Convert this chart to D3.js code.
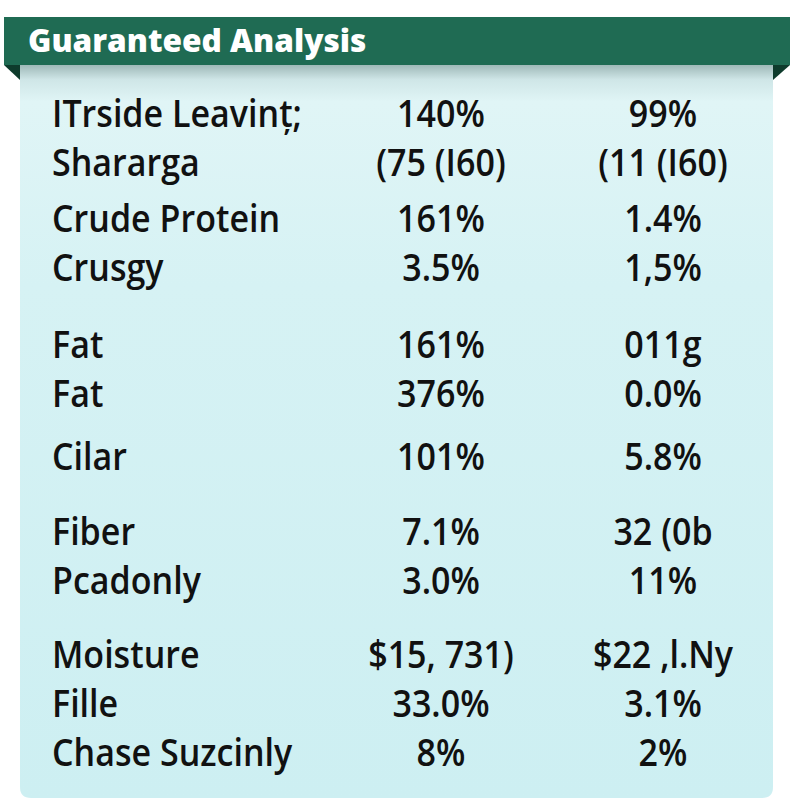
<!DOCTYPE html>
<html>
<head>
<meta charset="utf-8">
<script src="https://cdn.jsdelivr.net/npm/d3@7"></script>
<style>
  html, body { margin: 0; padding: 0; background: #fff; }
  svg { display: block; }
  text { font-family: "Open Sans", "Noto Sans", sans-serif; }
</style>
</head>
<body>
<svg id="chart" width="800" height="800"></svg>
<script>
/* ---------- data ---------- */
const title = "Guaranteed Analysis";
const labels = [
  "ITrside Leavint\u0326;", "Shararga", "Crude Protein", "Crusgy", "Fat", "Fat",
  "Cilar", "Fiber", "Pcadonly", "Moisture", "Fille", "Chase Suzcinly",
];
const firstValues = [
  "140%", "(75 (I60)", "161%", "3.5%", "161%", "376%",
  "101%", "7.1%", "3.0%", "$15, 731)", "33.0%", "8%",
];
const secondValues = [
  "99%", "(11 (I60)", "1.4%", "1,5%", "011g", "0.0%",
  "5.8%", "32 (0b", "11%", "$22 ,l.Ny", "3.1%", "2%",
];
// which block each row belongs to (blocks are split by extra space)
const rowGroup = [0, 0, 1, 1, 2, 2, 3, 4, 4, 5, 5, 5];

/* ---------- layout ---------- */
const svg = d3.select("#chart");
const headerColor = "#1f6b53";
const foldColor = "#0e3b2c";

// extra space (px) before each block
const blockGap = [0, 7, 28, 14, 26, 25];
const rowStep = 49;
const firstBase = 127;
const cumGap = d3.cumsum(blockGap);
const rowY = (i) => firstBase + i * rowStep + cumGap[rowGroup[i]];

const col = d3.scaleOrdinal()
  .domain(["label", "first", "second"])
  .range([52, 441, 663]);

/* ---------- panel ---------- */
const defs = svg.append("defs");
const grad = defs.append("linearGradient")
  .attr("id", "panelGrad").attr("x1", 0).attr("y1", 0).attr("x2", 0).attr("y2", 1);
grad.append("stop").attr("offset", "0%").attr("stop-color", "#9fb9b8");
grad.append("stop").attr("offset", "2%").attr("stop-color", "#cfe6e7");
grad.append("stop").attr("offset", "5%").attr("stop-color", "#e0f5f6");
grad.append("stop").attr("offset", "30%").attr("stop-color", "#d6f2f4");
grad.append("stop").attr("offset", "100%").attr("stop-color", "#cdeff2");

const panel = { x0: 20, x1: 773, y0: 65, y1: 798, r: 11 };
svg.append("path")
  .attr("fill", "url(#panelGrad)")
  .attr("d", `M${panel.x0},${panel.y0} H${panel.x1} V${panel.y1 - panel.r}
    Q${panel.x1},${panel.y1} ${panel.x1 - panel.r},${panel.y1}
    H${panel.x0 + panel.r} Q${panel.x0},${panel.y1} ${panel.x0},${panel.y1 - panel.r} Z`);

/* ---------- header ribbon ---------- */
const header = { x0: 4, x1: 790, y0: 17, y1: 65 };
svg.append("path").attr("fill", foldColor)
  .attr("d", `M${header.x0},${header.y1} L${panel.x0},${header.y1} L${panel.x0},${header.y1 + 15} Z`);
svg.append("path").attr("fill", foldColor)
  .attr("d", `M${panel.x1},${header.y1} L${header.x1},${header.y1} L${panel.x1},${header.y1 + 15} Z`);
svg.append("rect")
  .attr("x", header.x0).attr("y", header.y0)
  .attr("width", header.x1 - header.x0).attr("height", header.y1 - header.y0)
  .attr("fill", headerColor);
svg.append("text")
  .attr("transform", "translate(28,52) scale(1.02,1)")
  .attr("fill", "#fff")
  .style("font-size", "31px")
  .style("font-weight", 800)
  .text(title);

/* ---------- rows ---------- */
const rows = labels.map((l, i) => ({ label: l, first: firstValues[i], second: secondValues[i], i }));
const rowG = svg.selectAll("g.row").data(rows).join("g")
  .attr("class", "row")
  .attr("transform", (d) => `translate(0,${rowY(d.i)})`);

const cellStyle = (sel) => sel
  .attr("fill", "#111")
  .style("font-size", "37px")
  .style("font-weight", 600);

rowG.append("text")
  .attr("transform", `translate(${col("label")},0) scale(0.92,1)`)
  .call(cellStyle)
  .text((d) => d.label);
rowG.append("text")
  .attr("transform", `translate(${col("first")},0) scale(0.92,1)`)
  .attr("text-anchor", "middle")
  .call(cellStyle)
  .text((d) => d.first);
rowG.append("text")
  .attr("transform", `translate(${col("second")},0) scale(0.92,1)`)
  .attr("text-anchor", "middle")
  .call(cellStyle)
  .text((d) => d.second);
</script>
</body>
</html>
